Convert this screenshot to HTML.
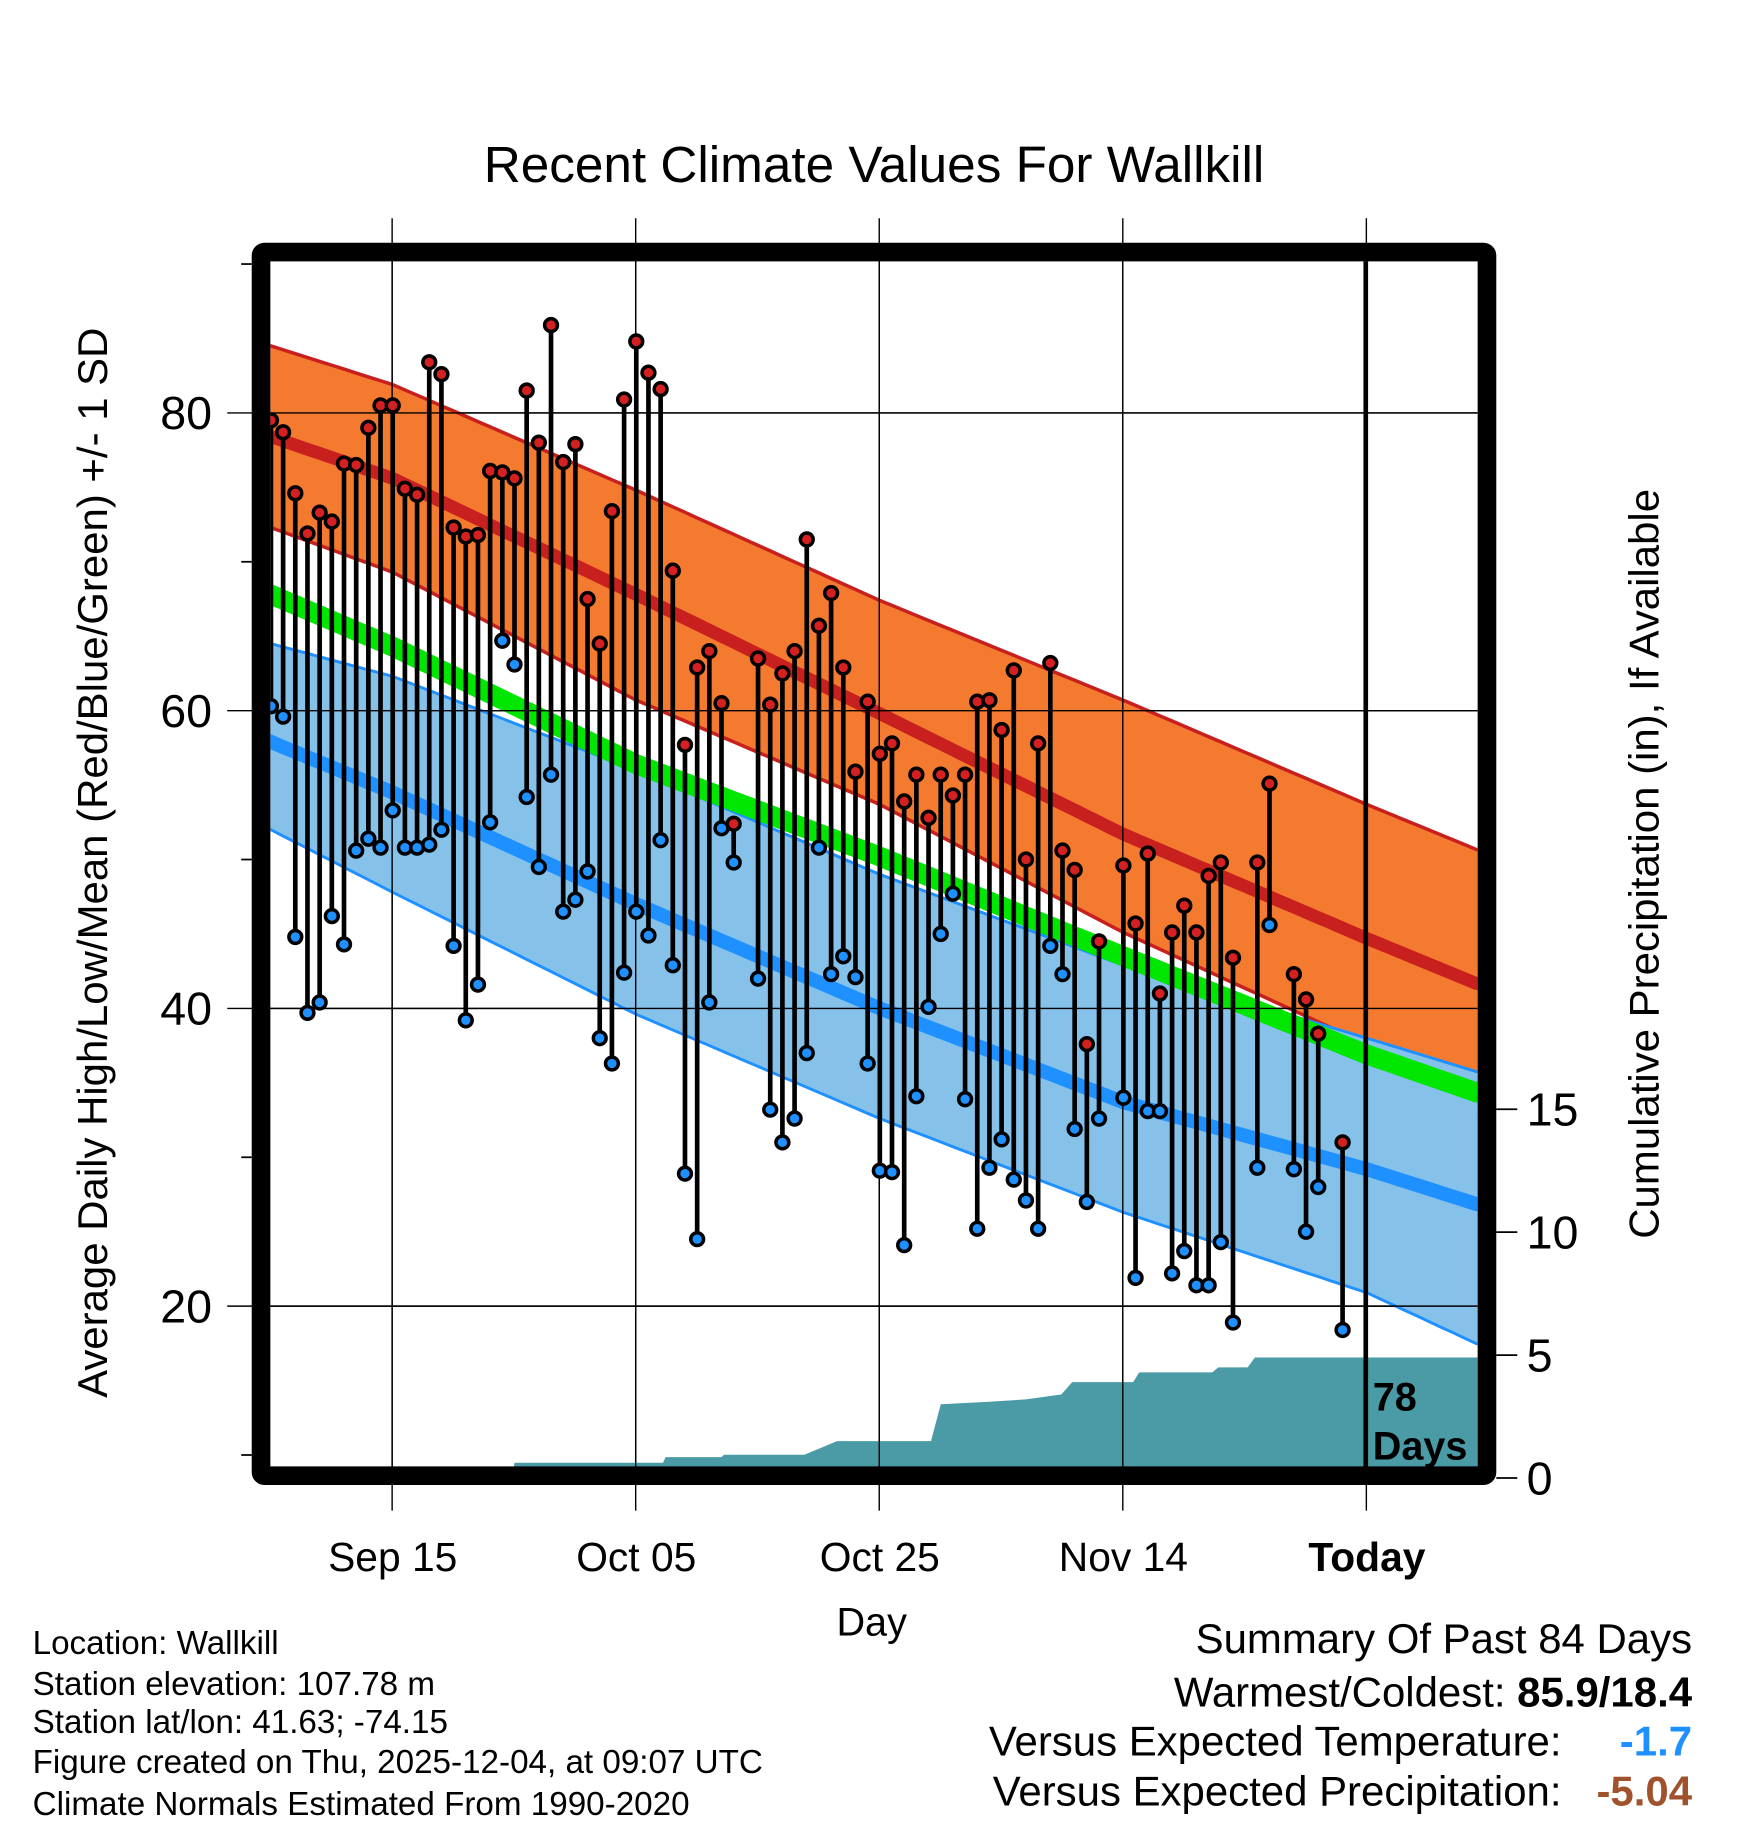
<!DOCTYPE html>
<html><head><meta charset="utf-8"><style>
html,body{margin:0;padding:0;background:#fff;}
svg{display:block;font-family:"Liberation Sans",sans-serif;}
</style></head><body>
<svg id="chart" width="1748" height="1828" viewBox="0 0 1500 1568" xmlns="http://www.w3.org/2000/svg">
<defs><clipPath id="plotclip"><rect x="232" y="224" width="1036" height="1036"/></clipPath></defs>
<rect width="1500" height="1568" fill="#fff"/>
<g id="gridlines"></g>
<g id="plot" clip-path="url(#plotclip)"></g>
<g id="axes"></g>
<text x="750" y="156" font-size="44" text-anchor="middle">Recent Climate Values For Wallkill</text>
<text transform="translate(92,740) rotate(-90)" font-size="36" text-anchor="middle">Average Daily High/Low/Mean (Red/Blue/Green) +/- 1 SD</text>
<text transform="translate(1423,741) rotate(-90)" font-size="36" text-anchor="middle">Cumulative Precipitation (in), If Available</text>
<text x="748" y="1403" font-size="34" text-anchor="middle">Day</text>
<g font-size="28.5">
<text x="28" y="1419">Location: Wallkill</text>
<text x="28" y="1454">Station elevation: 107.78 m</text>
<text x="28" y="1487">Station lat/lon: 41.63; -74.15</text>
<text x="28" y="1521">Figure created on Thu, 2025-12-04, at 09:07 UTC</text>
<text x="28" y="1557">Climate Normals Estimated From 1990-2020</text>
</g>
<g font-size="36" text-anchor="end">
<text x="1452" y="1418">Summary Of Past 84 Days</text>
<text x="1452" y="1464">Warmest/Coldest:  <tspan font-weight="bold">85.9/18.4</tspan></text>
<text x="1340" y="1506">Versus Expected Temperature:</text>
<text x="1452" y="1506" font-weight="bold" fill="#1e90ff">-1.7</text>
<text x="1340" y="1549">Versus Expected Precipitation:</text>
<text x="1452" y="1549" font-weight="bold" fill="#a0522d">-5.04</text>
</g>
</svg>
<script>
const normDays=[0,10,30,50,70,90,99.2];
const highPlus=[84.5,81.9,74.8,67.4,60.7,53.7,50.6];
const highMean=[78.4,75.6,67.8,59.8,51.7,44.7,41.6];
const highMinus=[72.3,69.3,60.7,53.7,45.1,37.6,32.6];
const meanTemp=[67.8,64.3,56.4,50.2,43.5,36.9,34.3];
const lowPlus=[64.5,62.3,56.0,49.0,42.9,38.0,35.7];
const lowMean=[57.9,54.5,47.0,40.0,33.7,29.2,26.8];
const lowMinus=[52.0,47.8,39.6,32.6,26.3,20.9,17.4];
const highs=[79.5,78.7,74.6,71.9,73.3,72.7,76.6,76.5,79.0,80.5,80.5,74.9,74.5,83.4,82.6,72.3,71.7,71.8,76.1,76.0,75.6,81.5,78.0,85.9,76.7,77.9,67.5,64.5,73.4,80.9,84.8,82.7,81.6,69.4,57.7,62.9,64.0,60.5,52.4,null,63.5,60.4,62.5,64.0,71.5,65.7,67.9,62.9,55.9,60.6,57.1,57.8,53.9,55.7,52.8,55.7,54.3,55.7,60.6,60.7,58.7,62.7,50.0,57.8,63.2,50.6,49.3,37.6,44.5,null,49.6,45.7,50.4,41.0,45.1,46.9,45.1,48.9,49.8,43.4,null,49.8,55.1,null,42.3,40.6,38.3,null,31.0];
const lows=[60.3,59.6,44.8,39.7,40.4,46.2,44.3,50.6,51.4,50.8,53.3,50.8,50.8,51.0,52.0,44.2,39.2,41.6,52.5,64.7,63.1,54.2,49.5,55.7,46.5,47.3,49.2,38.0,36.3,42.4,46.5,44.9,51.3,42.9,28.9,24.5,40.4,52.1,49.8,null,42.0,33.2,31.0,32.6,37.0,50.8,42.3,43.5,42.1,36.3,29.1,29.0,24.1,34.1,40.1,45.0,47.7,33.9,25.2,29.3,31.2,28.5,27.1,25.2,44.2,42.3,31.9,27.0,32.6,null,34.0,21.9,33.1,33.1,22.2,23.7,21.4,21.4,24.3,18.9,null,29.3,45.6,null,29.2,25.0,28.0,null,18.4];
const precipDays=[0,19.8,20,32.2,32.4,37,37.2,43.8,46.5,54.2,55.0,59,62,64.9,65.8,70.8,71.3,77.3,77.8,80.2,80.8,99.5];
const precipVals=[0,0,0.62,0.62,0.85,0.85,0.95,0.95,1.5,1.5,3.0,3.1,3.2,3.4,3.9,3.9,4.3,4.3,4.5,4.5,4.9,4.9];
const xTickDays=[10,30,50,70,90];
const xTickLabels=["Sep 15","Oct 05","Oct 25","Nov 14","Today"];
const yTicks=[20,40,60,80];
const yMinor=[10,30,50,70,90];
const pTicks=[0,5,10,15];

const NS="http://www.w3.org/2000/svg";
const X=d=>232.5+d*10.45;
const Y=v=>354+(80-v)*12.775;
const YP=p=>1268-p*21.1;
function interp(arr,d){for(let i=0;i<normDays.length-1;i++){if(d<=normDays[i+1]){const t=(d-normDays[i])/(normDays[i+1]-normDays[i]);return arr[i]+t*(arr[i+1]-arr[i]);}}return arr[arr.length-1];}
function mk(tag,attrs,parent){const el=document.createElementNS(NS,tag);for(const k in attrs)el.setAttribute(k,attrs[k]);parent.appendChild(el);return el;}
const plot=document.getElementById('plot'),grid=document.getElementById('gridlines'),axes=document.getElementById('axes');
const samples=[];for(let d=-1;d<=100;d+=1)samples.push(d);
function linePts(arr){return samples.map(d=>X(d).toFixed(1)+","+Y(interp(arr,d)).toFixed(1));}
function bandPath(top,bot){return "M"+linePts(top).join(" L")+" L"+linePts(bot).reverse().join(" L")+"Z";}

let e;
e=mk('path',{d:bandPath(highPlus,highMinus),fill:'#f47a30'},plot);


e=mk('polyline',{points:linePts(highPlus).join(" "),fill:'none',stroke:'#c8201e','stroke-width':3},plot);


e=mk('polyline',{points:linePts(highMinus).join(" "),fill:'none',stroke:'#c8201e','stroke-width':3},plot);


e=mk('polyline',{points:linePts(highMean).join(" "),fill:'none',stroke:'#c8201e','stroke-width':11},plot);


e=mk('path',{d:bandPath(lowPlus,lowMinus),fill:'#85c1e9'},plot);


e=mk('polyline',{points:linePts(lowPlus).join(" "),fill:'none',stroke:'#1e90ff','stroke-width':2.5},plot);


e=mk('polyline',{points:linePts(lowMinus).join(" "),fill:'none',stroke:'#1e90ff','stroke-width':2.5},plot);


e=mk('polyline',{points:linePts(lowMean).join(" "),fill:'none',stroke:'#1e90ff','stroke-width':12},plot);


e=mk('polyline',{points:linePts(meanTemp).join(" "),fill:'none',stroke:'#00e600','stroke-width':17},plot);



let pd="M"+X(precipDays[0])+",1270";
for(let i=0;i<precipDays.length;i++){pd+=" L"+X(precipDays[i]).toFixed(1)+","+YP(precipVals[i]).toFixed(1);}
pd+=" L"+X(precipDays[precipDays.length-1])+",1270Z";
e=mk('path',{d:pd,fill:'#4a9ba5'},plot);



yTicks.forEach(v=>{
  e=mk('line',{x1:195,x2:1268,y1:Y(v),y2:Y(v),stroke:'#000','stroke-width':1.2},grid);
  
  
});
xTickDays.forEach(d=>{
  e=mk('line',{x1:X(d)-0.5,x2:X(d)-0.5,y1:187,y2:1296,stroke:'#000','stroke-width':1.2},grid);
  
  
});
yTicks.forEach(v=>{
  e=mk('line',{x1:232,x2:1268,y1:Y(v),y2:Y(v),stroke:'#000','stroke-width':1.2},plot);
  
  
});
xTickDays.slice(0,4).forEach(d=>{
  e=mk('line',{x1:X(d)-0.5,x2:X(d)-0.5,y1:224,y2:1260,stroke:'#000','stroke-width':1.2},plot);
  
  
});

for(let i=0;i<highs.length;i++){
  if(highs[i]==null||lows[i]==null)continue;
  e=mk('line',{x1:X(i),x2:X(i),y1:Y(highs[i]),y2:Y(lows[i]),stroke:'#000','stroke-width':4},plot);
  
  
}
for(let i=0;i<highs.length;i++){
  if(highs[i]==null)continue;
  e=mk('circle',{cx:X(i),cy:Y(lows[i]),r:5.5,fill:'#1e90ff',stroke:'#000','stroke-width':3},plot);
  
  
  e=mk('circle',{cx:X(i),cy:Y(highs[i]),r:5.5,fill:'#d42020',stroke:'#000','stroke-width':3},plot);
  
  
}
e=mk('line',{x1:X(90)-1,x2:X(90)-1,y1:216,y2:1266,stroke:'#000','stroke-width':4},plot);


e=mk('text',{x:1178,y:1210,'font-size':34,'font-weight':'bold'},plot);e.textContent='78';


e=mk('text',{x:1178,y:1252,'font-size':34,'font-weight':'bold'},plot);e.textContent='Days';



e=mk('rect',{x:224,y:216,width:1052,height:1050,fill:'none',stroke:'#000','stroke-width':16,rx:3},axes);


yTicks.forEach(v=>{
  e=mk('text',{x:182,y:Y(v)+14,'font-size':40,'text-anchor':'end'},axes);e.textContent=v;
  
  
});
yMinor.forEach(v=>{
  e=mk('line',{x1:207,x2:216,y1:Y(v),y2:Y(v),stroke:'#000','stroke-width':1.5},axes);
  
  
});
pTicks.forEach(p=>{
  e=mk('line',{x1:1284,x2:1302,y1:YP(p),y2:YP(p),stroke:'#000','stroke-width':1.5},axes);
  
  
  e=mk('text',{x:1310,y:YP(p)+14,'font-size':40},axes);e.textContent=p;
  
  
});
xTickDays.forEach((d,i)=>{
  e=mk('text',{x:X(d),y:1348,'font-size':35,'text-anchor':'middle','font-weight':i===4?'bold':'normal'},axes);e.textContent=xTickLabels[i];
  
  
});
</script>
</body></html>
